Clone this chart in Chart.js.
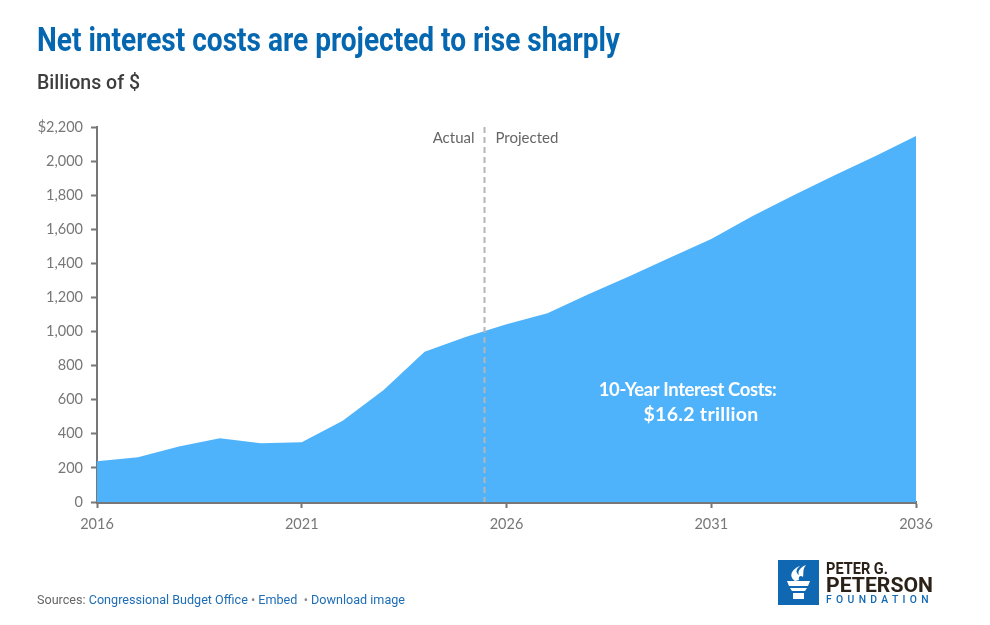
<!DOCTYPE html>
<html><head><meta charset="utf-8">
<script src="https://cdn.jsdelivr.net/npm/chart.js@4.4.1/dist/chart.umd.min.js"></script>
<style>
html,body{margin:0;padding:0;background:#fff;width:990px;height:625px;overflow:hidden;}
#wrap{position:relative;width:990px;height:625px;}
#c{position:absolute;left:0;top:0;}
.fit{position:absolute;white-space:nowrap;transform-origin:0 0;}
#title{left:37px;top:20px;font-family:Roboto,sans-serif;font-weight:700;font-size:33px;color:#0667b1;}
#sub{left:37px;top:70px;font-family:Roboto,sans-serif;font-weight:500;font-size:20px;color:#3d3d3d;}
#foot{left:37px;top:592px;font-family:Roboto,sans-serif;font-size:13px;color:#666;}
#foot .l{color:#1f6db5;}
#foot .b{color:#888;}
#logo{position:absolute;left:778px;top:560px;width:41px;height:45px;background:#1068b3;}
.lt{position:absolute;white-space:nowrap;transform-origin:0 0;font-family:Roboto,sans-serif;}
#l1{left:826px;top:558px;font-size:17px;font-weight:700;color:#2a2119;}
#l2{left:826px;top:573px;font-size:21px;font-weight:700;color:#2a2119;}
#l3{left:826px;top:594px;font-size:10px;font-weight:500;color:#1068b3;letter-spacing:4.2px;}
</style></head>
<body><div id="wrap">
<canvas id="c" width="990" height="625"></canvas>
<div id="title" class="fit" data-w="583">Net interest costs are projected to rise sharply</div>
<div id="sub" class="fit" data-w="103">Billions of $</div>
<div id="foot" class="fit" data-w="368">Sources: <span class="l">Congressional Budget Office</span> <span class="b">•</span> <span class="l">Embed</span> &nbsp;<span class="b">•</span> <span class="l">Download image</span></div>
<div id="logo"><svg width="41" height="45" viewBox="0 0 41 45">
<path d="M17 21 C10 16 14 9 22 6 C17 10 18 13 21 15 C19 11 23 7 28 5 C24 10 26 14 25 17 C23 15 20 16 21 20 Z" fill="#fff"/>
<path d="M9 21 L32 21 L30 26 L11 26 Z" fill="#fff"/>
<path d="M12 28 L29 28 L27 31 L14 31 Z" fill="#fff"/>
<rect x="15" y="33" width="11" height="6" fill="#fff"/>
</svg></div>
<div id="l1" class="lt" data-w="62">PETER G.</div>
<div id="l2" class="lt" data-w="107">PETERSON</div>
<div id="l3" class="lt" data-w="107">FOUNDATION</div>
</div>
<script>
const years = [2016,2017,2018,2019,2020,2021,2022,2023,2024,2025,2026,2027,2028,2029,2030,2031,2032,2033,2034,2035,2036];
const netInterest = [239,262,325,374,345,351,476,657,882,968,1043,1108,1219,1325,1435,1543,1676,1798,1915,2029,2147];
const xTickYears = [2016,2021,2026,2031,2036];
const yTickValues = [0,200,400,600,800,1000,1200,1400,1600,1800,2000,2200];
const dividerYear = 2025.45;
const dividerLabels = ['Actual','Projected'];
const calloutLines = ['10-Year Interest Costs:','$16.2 trillion'];

function fitAll(){
  document.querySelectorAll('.fit,.lt').forEach(el=>{
    const w = parseFloat(el.dataset.w);
    el.style.transform='none';
    const cw = el.getBoundingClientRect().width;
    el.style.transform='scaleX('+(w/cw)+')';
  });
}

const annot = {
  id:'annot',
  afterDatasetsDraw(chart){
    const {ctx, chartArea, scales:{x,y}} = chart;
    const px = Math.round(x.getPixelForValue(dividerYear))+0.5;
    ctx.save();
    ctx.strokeStyle='#b5b5b5'; ctx.lineWidth=2; ctx.setLineDash([6,4]);
    ctx.beginPath(); ctx.moveTo(px, chartArea.top); ctx.lineTo(px, chartArea.bottom); ctx.stroke();
    ctx.setLineDash([]);
    ctx.font='15px Lato'; ctx.fillStyle='#666'; ctx.textBaseline='middle';
    ctx.textAlign='right'; ctx.fillText(dividerLabels[0], px-10, chartArea.top+11);
    ctx.textAlign='left'; ctx.fillText(dividerLabels[1], px+11, chartArea.top+11);
    ctx.fillStyle='#fff'; ctx.textAlign='center'; ctx.textBaseline='alphabetic';
    ctx.font='bold 18.5px Lato';
    ctx.letterSpacing='-0.4px';
    ctx.fillText(calloutLines[0], x.getPixelForValue(2030.42), y.getPixelForValue(620));
    ctx.font='bold 19.5px Lato';
    ctx.letterSpacing='0.3px';
    ctx.fillText(calloutLines[1], x.getPixelForValue(2030.75), y.getPixelForValue(477));
    ctx.restore();
  }
};

const tickFont = {family:'Lato', size:14.5};
new Chart(document.getElementById('c'), {
  type:'line',
  data:{datasets:[{
    data: years.map((yr,i)=>({x:yr, y:netInterest[i]})),
    fill:'origin',
    backgroundColor:'#4fb3fc',
    borderWidth:0,
    pointRadius:0,
    tension:0
  }]},
  options:{
    responsive:false,
    animation:false,
    devicePixelRatio:1,
    layout:{padding:{left:37,right:74,top:127,bottom:83}},
    plugins:{legend:{display:false},tooltip:{enabled:false}},
    scales:{
      x:{type:'linear',min:2016,max:2036,
        afterBuildTicks: s => { s.ticks = xTickYears.map(v=>({value:v})); },
        afterFit: s => { s.height = 40; },
        ticks:{callback:v=>String(v),font:tickFont,color:'#777',padding:8,maxRotation:0},
        grid:{drawOnChartArea:false,drawTicks:true,tickLength:6,tickColor:'#777',tickWidth:2},
        border:{display:true,color:'#777',width:3}
      },
      y:{min:0,max:2200,
        afterBuildTicks: s => { s.ticks = yTickValues.map(v=>({value:v})); },
        afterFit: s => { s.width = 60; },
        ticks:{callback:v=> v===2200 ? '$2,200' : v.toLocaleString('en-US'),font:tickFont,color:'#777',padding:8},
        grid:{drawOnChartArea:false,drawTicks:true,tickLength:6,tickColor:'#777',tickWidth:2},
        border:{display:true,color:'#777',width:2}
      }
    }
  },
  plugins:[annot]
});
fitAll();
</script>
</body></html>
